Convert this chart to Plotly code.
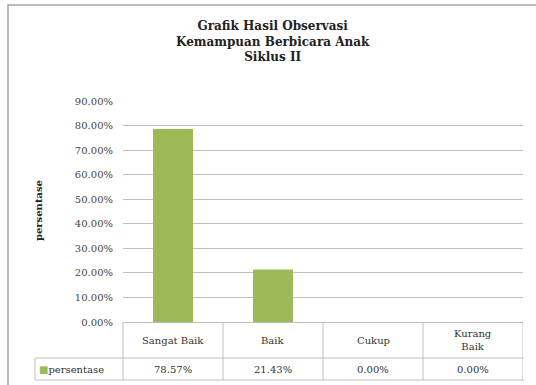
import plotly.graph_objects as go

# Data
categories = ["Sangat Baik", "Baik", "Cukup", "Kurang Baik"]
category_labels = ["Sangat Baik", "Baik", "Cukup", "Kurang<br>Baik"]
persentase = [0.7857, 0.2143, 0.0, 0.0]
series_name = "persentase"
title_lines = ["Grafik Hasil Observasi", "Kemampuan Berbicara Anak", "Siklus II"]

W, H = 536, 385
L, R, T, B = 123, 13, 101, 63
plot_w = W - L - R
plot_h = H - T - B

BAR = "#9BBB59"
GRID = "#BFBFBF"
TXT = "#333333"
FONT = "DejaVu Serif"


def px_x(px):
    return (px - L) / plot_w


def px_y(py):
    return (H - B - py) / plot_h


fig = go.Figure()
fig.add_trace(go.Bar(
    x=categories, y=persentase, name=series_name,
    marker=dict(color=BAR, line=dict(width=0)), width=0.4,
    showlegend=False,
))

shapes = []
# outer chart border (top and left visible)
shapes.append(dict(type="rect", xref="paper", yref="paper",
                   x0=px_x(8), x1=px_x(545), y0=px_y(392), y1=px_y(5),
                   line=dict(color="#A6A6A6", width=1.5), layer="below"))

# data table under the axis
row1_bottom = 358
row2_bottom = 380
line_style = dict(color=GRID, width=1)
shapes.append(dict(type="line", xref="paper", yref="paper",
                   x0=px_x(35), x1=1.0025, y0=px_y(row1_bottom), y1=px_y(row1_bottom), line=line_style))
shapes.append(dict(type="line", xref="paper", yref="paper",
                   x0=px_x(35), x1=1.0025, y0=px_y(row2_bottom), y1=px_y(row2_bottom), line=line_style))
shapes.append(dict(type="line", xref="paper", yref="paper",
                   x0=px_x(35), x1=px_x(35), y0=px_y(row1_bottom), y1=px_y(row2_bottom), line=line_style))
shapes.append(dict(type="line", xref="paper", yref="paper",
                   x0=0, x1=0, y0=0, y1=px_y(row2_bottom), line=line_style))
for i in range(len(categories)):
    shapes.append(dict(type="line", xref="x", yref="paper",
                       x0=i + 0.5, x1=i + 0.5, y0=0, y1=px_y(row2_bottom), line=line_style))

annotations = []
annotations.append(dict(
    text="<br>".join(title_lines), xref="paper", yref="paper",
    x=px_x(273), y=px_y(41), xanchor="center", yanchor="middle", showarrow=False,
    font=dict(family=FONT, size=12, color="#222222", weight="bold"),
))
annotations.append(dict(
    text="persentase", xref="paper", yref="paper",
    x=px_x(38), y=px_y(211), textangle=-90, xanchor="center", yanchor="middle",
    showarrow=False, font=dict(family=FONT, size=10, color="#222222", weight="bold"),
))
for cat, lab, val in zip(categories, category_labels, persentase):
    annotations.append(dict(
        text=lab, xref="x", yref="paper", x=cat, y=px_y(340),
        xanchor="center", yanchor="middle", showarrow=False,
        font=dict(family=FONT, size=10, color=TXT),
    ))
    annotations.append(dict(
        text=f"{val * 100:.2f}%", xref="x", yref="paper", x=cat, y=px_y(369),
        xanchor="center", yanchor="middle", showarrow=False,
        font=dict(family=FONT, size=10, color=TXT),
    ))
# legend key in the table
annotations.append(dict(
    text=f"<span style='color:{BAR}'>■</span>{series_name}", xref="paper", yref="paper",
    x=px_x(37), y=px_y(369), xanchor="left", yanchor="middle", showarrow=False,
    font=dict(family=FONT, size=10, color=TXT),
))

fig.update_layout(
    width=W, height=H,
    margin=dict(l=L, r=R, t=T, b=B),
    paper_bgcolor="white", plot_bgcolor="white",
    font=dict(family=FONT),
    bargap=0.6,
    shapes=shapes, annotations=annotations,
    xaxis=dict(showticklabels=False, ticks="", showgrid=False, zeroline=False,
               showline=True, linecolor=GRID, linewidth=1, range=[-0.5, 3.5]),
    yaxis=dict(range=[0, 0.9], dtick=0.1, tickformat=".2%", showgrid=True,
               gridcolor=GRID, gridwidth=1, zeroline=False, showline=False,
               ticks="", ticklabelstandoff=9,
               tickfont=dict(family=FONT, size=10, color="#444444")),
)

fig.write_html("out.html")
